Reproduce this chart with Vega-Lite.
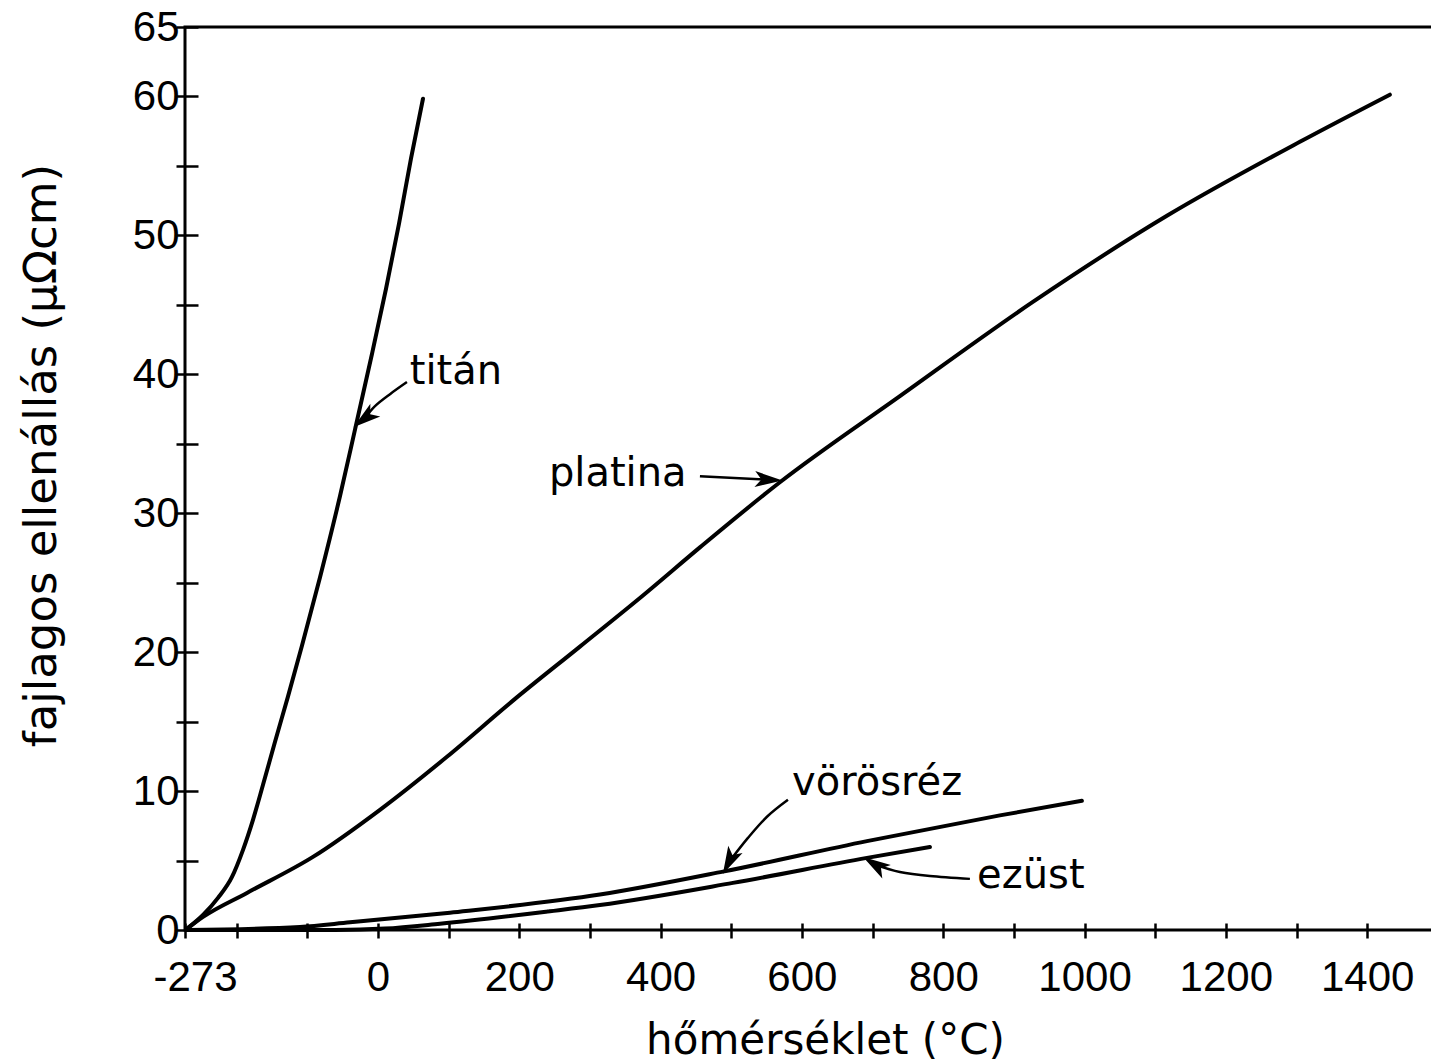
{
  "$schema": "https://vega.github.io/schema/vega-lite/v6.json",
  "width": 1250,
  "height": 903,
  "autosize": {"type": "none"},
  "padding": {"left": 185, "top": 27, "right": 0, "bottom": 134},
  "background": "white",
  "config": {
    "view": {"stroke": "black", "strokeWidth": 3},
    "axis": {"domain": false, "grid": false, "tickColor": "black", "tickWidth": 2.5, "labelColor": "black", "titleColor": "black"}
  },
  "datasets": {
    "curves": [
      {"metal": "titán", "t": -270, "r": 0.1},
      {"metal": "titán", "t": -247.5, "r": 1.08},
      {"metal": "titán", "t": -226.3, "r": 2.31},
      {"metal": "titán", "t": -206.5, "r": 3.82},
      {"metal": "titán", "t": -190.9, "r": 5.77},
      {"metal": "titán", "t": -176.8, "r": 7.93},
      {"metal": "titán", "t": -162.6, "r": 10.45},
      {"metal": "titán", "t": -145.6, "r": 13.55},
      {"metal": "titán", "t": -127.3, "r": 16.8},
      {"metal": "titán", "t": -107.4, "r": 20.48},
      {"metal": "titán", "t": -82, "r": 25.38},
      {"metal": "titán", "t": -53.7, "r": 31.22},
      {"metal": "titán", "t": -31, "r": 36.34},
      {"metal": "titán", "t": -8.4, "r": 41.46},
      {"metal": "titán", "t": 11.4, "r": 46.14},
      {"metal": "titán", "t": 29.8, "r": 50.83},
      {"metal": "titán", "t": 46.8, "r": 55.52},
      {"metal": "titán", "t": 63.8, "r": 59.84},
      {"metal": "platina", "t": -270, "r": 0.1},
      {"metal": "platina", "t": -247.5, "r": 0.94},
      {"metal": "platina", "t": -185.3, "r": 2.67},
      {"metal": "platina", "t": -91.9, "r": 5.26},
      {"metal": "platina", "t": 2.9, "r": 8.65},
      {"metal": "platina", "t": 97.7, "r": 12.47},
      {"metal": "platina", "t": 191.1, "r": 16.51},
      {"metal": "platina", "t": 285.9, "r": 20.4},
      {"metal": "platina", "t": 375.1, "r": 24.08},
      {"metal": "platina", "t": 455.7, "r": 27.54},
      {"metal": "platina", "t": 568.9, "r": 32.23},
      {"metal": "platina", "t": 738.7, "r": 38.43},
      {"metal": "platina", "t": 926.9, "r": 45.21},
      {"metal": "platina", "t": 1116.6, "r": 51.41},
      {"metal": "platina", "t": 1304.8, "r": 56.74},
      {"metal": "platina", "t": 1432.1, "r": 60.13},
      {"metal": "vörösréz", "t": -270, "r": 0},
      {"metal": "vörösréz", "t": -110.3, "r": 0.22},
      {"metal": "vörösréz", "t": -39.5, "r": 0.55},
      {"metal": "vörösréz", "t": 102, "r": 1.25},
      {"metal": "vörösréz", "t": 314.2, "r": 2.55},
      {"metal": "vörösréz", "t": 488.3, "r": 4.2},
      {"metal": "vörösréz", "t": 692.1, "r": 6.4},
      {"metal": "vörösréz", "t": 880.2, "r": 8.25},
      {"metal": "vörösréz", "t": 996.3, "r": 9.3},
      {"metal": "ezüst", "t": -270, "r": 0},
      {"metal": "ezüst", "t": -60, "r": 0},
      {"metal": "ezüst", "t": 10, "r": 0.1},
      {"metal": "ezüst", "t": 87.8, "r": 0.45},
      {"metal": "ezüst", "t": 243.5, "r": 1.35},
      {"metal": "ezüst", "t": 314.2, "r": 1.8},
      {"metal": "ezüst", "t": 502.4, "r": 3.39},
      {"metal": "ezüst", "t": 692.1, "r": 5.19},
      {"metal": "ezüst", "t": 781.2, "r": 5.98}
    ],
    "arrows": [
      {"arrow": "titán", "i": 1, "t": 41.1, "r": 39.44},
      {"arrow": "titán", "i": 2, "t": 17.1, "r": 38.57},
      {"arrow": "titán", "i": 3, "t": -4.1, "r": 37.71},
      {"arrow": "titán", "i": 4, "t": -18.3, "r": 36.84},
      {"arrow": "platina", "i": 1, "t": 455.7, "r": 32.66},
      {"arrow": "platina", "i": 2, "t": 552, "r": 32.41},
      {"arrow": "vörösréz", "i": 1, "t": 580.3, "r": 9.37},
      {"arrow": "vörösréz", "i": 2, "t": 550.6, "r": 8.15},
      {"arrow": "vörösréz", "i": 3, "t": 523.7, "r": 6.63},
      {"arrow": "vörösréz", "i": 4, "t": 500, "r": 5.1},
      {"arrow": "ezüst", "i": 1, "t": 837.8, "r": 3.68},
      {"arrow": "ezüst", "i": 2, "t": 781.2, "r": 3.89},
      {"arrow": "ezüst", "i": 3, "t": 738.7, "r": 4.18},
      {"arrow": "ezüst", "i": 4, "t": 704.1, "r": 4.69}
    ],
    "heads": [
      {"arrow": "titán", "t": -18.3, "r": 36.84},
      {"arrow": "platina", "t": 552, "r": 32.41},
      {"arrow": "vörösréz", "t": 497.5, "r": 4.97},
      {"arrow": "ezüst", "t": 704.1, "r": 4.69}
    ],
    "labels": [
      {"label": "titán", "t": 45, "r": 39.3},
      {"label": "platina", "t": 242, "r": 31.94},
      {"label": "vörösréz", "t": 586, "r": 9.73},
      {"label": "ezüst", "t": 848, "r": 3.03}
    ]
  },
  "layer": [
    {
      "data": {"name": "curves"},
      "mark": {"type": "line", "color": "black", "strokeWidth": 4, "interpolate": "monotone", "strokeCap": "round"},
      "encoding": {
        "x": {
          "field": "t", "type": "quantitative",
          "scale": {"domain": [-273, 1496], "nice": false, "zero": false},
          "axis": {
            "orient": "bottom",
            "offset": -7,
            "values": [-273, -200, -100, 0, 100, 200, 300, 400, 500, 600, 700, 800, 900, 1000, 1100, 1200, 1300, 1400],
            "labelExpr": "datum.value == -273 ? '-273' : (datum.value >= 0 && datum.value % 200 == 0 ? '' + datum.value : '')",
            "labelFlush": false,
            "labelOffset": {"condition": {"test": "datum.value == -273", "value": 10}, "value": 0},
            "labelFont": "Liberation Sans", "labelFontSize": 42,
            "labelPadding": 19, "tickSize": 15, "labelBaseline": "top",
            "title": "hőmérséklet (°C)",
            "titleFont": "DejaVu Sans", "titleFontSize": 42, "titleFontWeight": "normal",
            "titleX": 640, "titleY": 130, "titleAlign": "center", "titleBaseline": "alphabetic"
          }
        },
        "y": {
          "field": "r", "type": "quantitative",
          "scale": {"domain": [0, 65], "nice": false, "zero": false},
          "axis": {
            "orient": "left",
            "offset": -13,
            "values": [0, 5, 10, 15, 20, 25, 30, 35, 40, 45, 50, 55, 60, 65],
            "labelExpr": "datum.value % 10 == 0 || datum.value == 65 ? '' + datum.value : ''",
            "labelFont": "Liberation Sans", "labelFontSize": 42,
            "labelPadding": -3, "tickSize": 22,
            "title": "fajlagos ellenállás (μΩcm)",
            "titleFont": "DejaVu Sans", "titleFontSize": 45, "titleFontWeight": "normal",
            "titleX": -143, "titleY": 428, "titleAngle": -90, "titleAlign": "center", "titleBaseline": "alphabetic"
          }
        },
        "detail": {"field": "metal", "type": "nominal"}
      }
    },
    {
      "data": {"name": "arrows"},
      "mark": {"type": "line", "color": "black", "strokeWidth": 2.5, "interpolate": "cardinal"},
      "encoding": {
        "x": {"field": "t", "type": "quantitative"},
        "y": {"field": "r", "type": "quantitative"},
        "detail": {"field": "arrow", "type": "nominal"},
        "order": {"field": "i", "type": "quantitative"}
      }
    },
    {
      "data": {"name": "heads"},
      "transform": [{"filter": "datum.arrow == 'titán'"}],
      "mark": {"type": "point", "shape": "M0,-1L0.55,0.9L0,0.45L-0.55,0.9Z", "size": 850, "filled": true, "color": "black", "opacity": 1, "angle": 232},
      "encoding": {"x": {"field": "t", "type": "quantitative"}, "y": {"field": "r", "type": "quantitative"}}
    },
    {
      "data": {"name": "heads"},
      "transform": [{"filter": "datum.arrow == 'platina'"}],
      "mark": {"type": "point", "shape": "M0,-1L0.55,0.9L0,0.45L-0.55,0.9Z", "size": 850, "filled": true, "color": "black", "opacity": 1, "angle": 93},
      "encoding": {"x": {"field": "t", "type": "quantitative"}, "y": {"field": "r", "type": "quantitative"}}
    },
    {
      "data": {"name": "heads"},
      "transform": [{"filter": "datum.arrow == 'vörösréz'"}],
      "mark": {"type": "point", "shape": "M0,-1L0.55,0.9L0,0.45L-0.55,0.9Z", "size": 850, "filled": true, "color": "black", "opacity": 1, "angle": 207},
      "encoding": {"x": {"field": "t", "type": "quantitative"}, "y": {"field": "r", "type": "quantitative"}}
    },
    {
      "data": {"name": "heads"},
      "transform": [{"filter": "datum.arrow == 'ezüst'"}],
      "mark": {"type": "point", "shape": "M0,-1L0.55,0.9L0,0.45L-0.55,0.9Z", "size": 850, "filled": true, "color": "black", "opacity": 1, "angle": 302},
      "encoding": {"x": {"field": "t", "type": "quantitative"}, "y": {"field": "r", "type": "quantitative"}}
    },
    {
      "data": {"name": "labels"},
      "mark": {"type": "text", "font": "DejaVu Sans", "fontSize": 40, "align": "left", "baseline": "alphabetic", "color": "black"},
      "encoding": {
        "x": {"field": "t", "type": "quantitative"},
        "y": {"field": "r", "type": "quantitative"},
        "text": {"field": "label", "type": "nominal"}
      }
    }
  ]
}
